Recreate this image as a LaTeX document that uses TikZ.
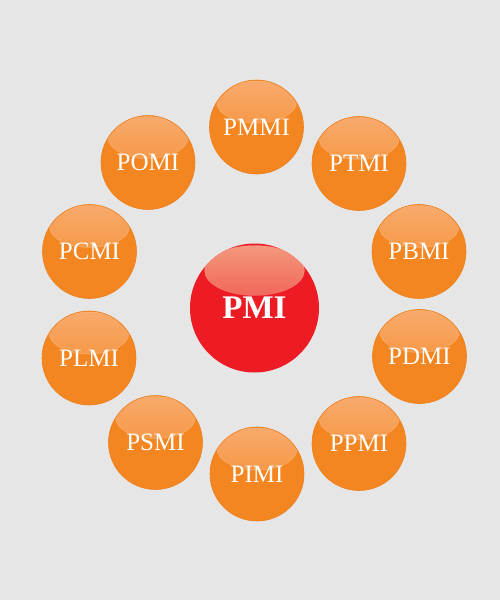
\documentclass[tikz,border=0pt]{standalone}
\usepackage{fontspec}
\setmainfont{Liberation Serif}
\definecolor{bgc}{HTML}{E6E6E6}
\definecolor{orng}{HTML}{F48621}
\definecolor{orngdk}{HTML}{EE7F1E}
\definecolor{orngl}{HTML}{F8AA6C}
\definecolor{redb}{HTML}{ED1C24}
\definecolor{redl}{HTML}{F49A7E}
\tikzset{
  ball/.style={circle, inner sep=0pt, minimum size=94pt, fill=orng, draw=orngdk, line width=0.6pt,
    text=white, font=\fontsize{25}{25}\selectfont,
    path picture={\shade[top color=orngl, bottom color=orng, draw=white, draw opacity=0.18, line width=0.8pt]
      ([yshift=25pt]path picture bounding box.center) ellipse [x radius=40pt, y radius=21pt];}},
  bigball/.style={circle, inner sep=0pt, minimum size=129pt, fill=redb,
    text=white, font=\fontsize{33}{33}\selectfont\bfseries,
    path picture={\shade[top color=redl, bottom color=redb, draw=white, draw opacity=0.15, line width=0.8pt]
      ([yshift=37.5pt]path picture bounding box.center) ellipse [x radius=50pt, y radius=25pt];}}
}
\begin{document}
\begin{tikzpicture}[x=1pt,y=-1pt]
\fill[bgc] (0,0) rectangle (500,600);
\useasboundingbox (0,0) rectangle (500,600);
\node[bigball] (pmi) at (254.5,308) {PMI};
\node[ball] (pmmi) at (256.5,127) {PMMI};
\node[ball] (ptmi) at (359,163.5) {PTMI};
\node[ball] (pbmi) at (419,251.5) {PBMI};
\node[ball] (pdmi) at (419.5,356.5) {PDMI};
\node[ball] (ppmi) at (359,443.5) {PPMI};
\node[ball] (pimi) at (257,474) {PIMI};
\node[ball] (psmi) at (155.5,442.5) {PSMI};
\node[ball] (plmi) at (89,358) {PLMI};
\node[ball] (pcmi) at (89.5,251.5) {PCMI};
\node[ball] (pomi) at (148,162.5) {POMI};
\end{tikzpicture}
\end{document}
